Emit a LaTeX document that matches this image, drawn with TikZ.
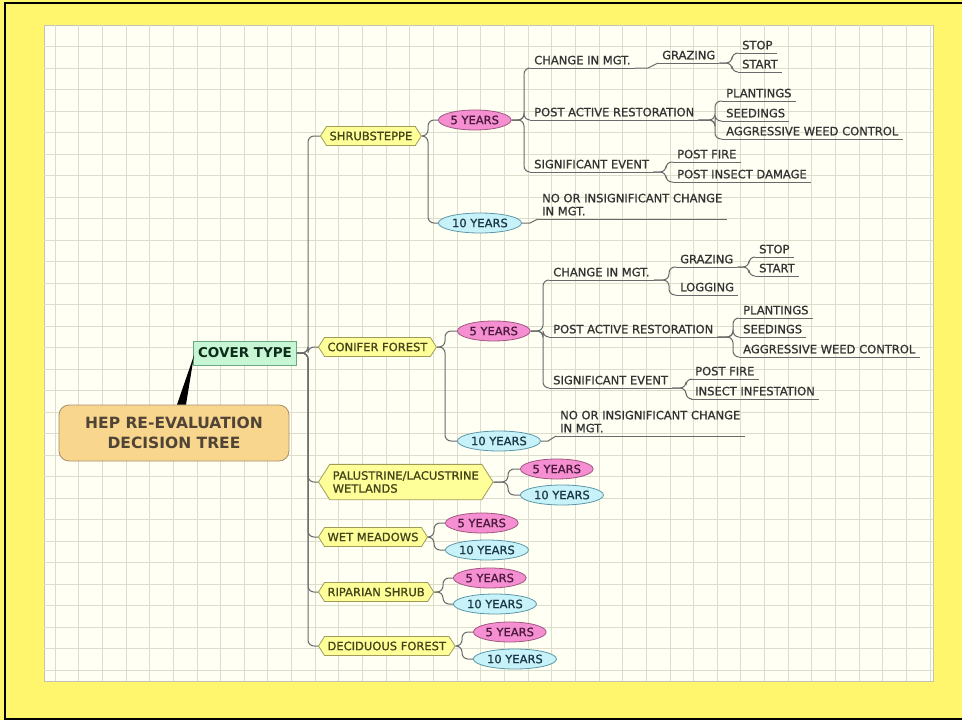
\documentclass[tikz,border=0pt]{standalone}
\usepackage{fontspec}
\setmainfont{DejaVu Sans}
\newfontfamily\leafface{DejaVu Sans}[FakeBold=1]
\usetikzlibrary{shapes.geometric,shapes.symbols,calc}

\definecolor{bgyellow}{HTML}{FFF66E}
\definecolor{paper}{HTML}{FFFFF4}
\definecolor{paperedge}{HTML}{C4C4B6}
\definecolor{gridgray}{HTML}{DDDDCE}
\definecolor{linegray}{HTML}{6A6A6A}
\definecolor{leaftext}{HTML}{333333}
\definecolor{hexfill}{HTML}{FFFF99}
\definecolor{hexline}{HTML}{A09C58}
\definecolor{hextext}{HTML}{44431A}
\definecolor{pinkfill}{HTML}{F58FD2}
\definecolor{pinkline}{HTML}{A0587F}
\definecolor{pinktext}{HTML}{4A1A3C}
\definecolor{cyanfill}{HTML}{C8F2FA}
\definecolor{cyanline}{HTML}{5A98A8}
\definecolor{cyantext}{HTML}{1A3646}
\definecolor{greenfill}{HTML}{C6F6D3}
\definecolor{greenline}{HTML}{6AA882}
\definecolor{greentext}{HTML}{0E2C1A}
\definecolor{titlefill}{HTML}{F9D68E}
\definecolor{titleline}{HTML}{A88F6C}
\definecolor{titletext}{HTML}{4F4436}

\newcommand{\leaffont}{\leafface\fontsize{11.5}{13}\selectfont}

\tikzset{
  gridline/.style={draw=gridgray, line width=0.8pt},
  branch/.style={draw=linegray, line width=1pt, rounded corners=6pt},
  leaf/.style={anchor=south west, inner xsep=4pt, inner ysep=3.5pt, text depth=0pt, font=\leaffont, text=leaftext},
  hexbox/.style={signal, signal to=east and west, signal pointer angle=115, anchor=west,
    draw=hexline, fill=hexfill, line width=0.8pt, inner xsep=3pt, inner ysep=3pt,
    minimum height=19pt, font=\leaffont, text=hextext},
  yearbox/.style={ellipse, anchor=west, line width=0.8pt, inner xsep=1.5pt, inner ysep=0pt,
    minimum height=20pt, font=\leaffont},
  fivebox/.style={yearbox, draw=pinkline, fill=pinkfill, text=pinktext},
  tenbox/.style={yearbox, draw=cyanline, fill=cyanfill, text=cyantext},
  coverbox/.style={draw=greenline, fill=greenfill, line width=0.8pt, minimum width=103pt,
    minimum height=24pt, font=\bfseries\fontsize{13.5}{16}\selectfont, text=greentext},
  titlebox/.style={draw=titleline, fill=titlefill, line width=0.8pt, rounded corners=10pt,
    minimum width=230pt, minimum height=56pt, align=center,
    font=\bfseries\fontsize{15.5}{20}\selectfont, text=titletext}
}

\begin{document}
\begin{tikzpicture}[x=1pt, y=-1pt]
  \useasboundingbox (0,0) rectangle (962,720);
  \fill[bgyellow] (0,0) rectangle (962,720);
  \draw[black, line width=2pt] (5,3) rectangle (975,718.5);
  \filldraw[fill=paper, draw=paperedge, line width=1pt] (44,25) rectangle (933,681);
  \begin{scope}
    \clip (44,25) rectangle (933,681);
    \foreach \i in {0,...,37} \draw[gridline] ({55+23.65*\i},25) -- ++(0,656);
    \foreach \j in {0,...,29} \draw[gridline] (44,{46.7+21.5*\j}) -- ++(889,0);
  \end{scope}

  \coordinate (tr) at (308,0);
  \coordinate (hs1) at (428,0);
  \coordinate (hs2) at (445,0);
  \coordinate (hs3) at (508,0);
  \coordinate (hs4) at (434,0);
  \coordinate (hs5) at (443,0);
  \coordinate (hs6) at (462,0);
  \coordinate (sp1) at (524,0);
  \coordinate (sp2) at (648,0);
  \coordinate (sp3) at (732,0);
  \coordinate (sp4) at (715,0);
  \coordinate (sp5) at (666,0);
  \coordinate (sp6) at (530,0);
  \coordinate (sq1) at (543,0);
  \coordinate (sq2) at (669,0);
  \coordinate (sq3) at (749,0);
  \coordinate (sq4) at (733,0);
  \coordinate (sq5) at (686,0);
  \coordinate (sq6) at (548,0);

  \node[titlebox] (title) at (174,433) {HEP RE-EVALUATION\\DECISION TREE};
  \node[coverbox] (cover) at (245,353) {COVER TYPE};

  \node[hexbox] (shrub) at (320,136) {SHRUBSTEPPE};
  \node[hexbox] (conif) at (318,347) {CONIFER FOREST};
  \node[hexbox, align=left, inner ysep=6.8pt] (palus) at (318,482) {PALUSTRINE/LACUSTRINE\\WETLANDS};
  \node[hexbox] (wetm) at (318,537) {WET MEADOWS};
  \node[hexbox] (ripar) at (318,592) {RIPARIAN SHRUB};
  \node[hexbox] (decid) at (318,646) {DECIDUOUS FOREST};

  \node[fivebox] (s5) at (438,120) {5 YEARS};
  \node[tenbox] (s10) at (438,223) {10 YEARS};
  \node[fivebox] (c5) at (457,331) {5 YEARS};
  \node[tenbox] (c10) at (457,441) {10 YEARS};
  \node[fivebox] (p5) at (520,469) {5 YEARS};
  \node[tenbox] (p10) at (520,495) {10 YEARS};
  \node[fivebox] (w5) at (445,523) {5 YEARS};
  \node[tenbox] (w10) at (445,550) {10 YEARS};
  \node[fivebox] (r5) at (453,578) {5 YEARS};
  \node[tenbox] (r10) at (453,604) {10 YEARS};
  \node[fivebox] (d5) at (473,632) {5 YEARS};
  \node[tenbox] (d10) at (473,659) {10 YEARS};

  \node[leaf] (s5chg) at (530,68) {CHANGE IN MGT.};
  \node[leaf] (s5graz) at (658,63) {GRAZING};
  \node[leaf] (s5stop) at (738,53) {STOP};
  \node[leaf] (s5start) at (738,72) {START};
  \node[leaf] (s5par) at (530,120) {POST ACTIVE RESTORATION};
  \node[leaf] (s5plant) at (722,101) {PLANTINGS};
  \node[leaf] (s5seed) at (722,121) {SEEDINGS};
  \node[leaf] (s5weed) at (722,139) {AGGRESSIVE WEED CONTROL};
  \node[leaf] (s5sig) at (530,172) {SIGNIFICANT EVENT};
  \node[leaf] (s5fire) at (673,162) {POST FIRE};
  \node[leaf] (s5insect) at (673,182) {POST INSECT DAMAGE};
  \node[leaf, align=left] (s10no) at (538,219) {NO OR INSIGNIFICANT CHANGE\\IN MGT.};

  \node[leaf] (c5chg) at (549,280) {CHANGE IN MGT.};
  \node[leaf] (c5graz) at (676,267) {GRAZING};
  \node[leaf] (c5stop) at (755,257) {STOP};
  \node[leaf] (c5start) at (755,276) {START};
  \node[leaf] (c5log) at (676,295) {LOGGING};
  \node[leaf] (c5par) at (549,337) {POST ACTIVE RESTORATION};
  \node[leaf] (c5plant) at (739,318) {PLANTINGS};
  \node[leaf] (c5seed) at (739,337) {SEEDINGS};
  \node[leaf] (c5weed) at (739,357) {AGGRESSIVE WEED CONTROL};
  \node[leaf] (c5sig) at (549,388) {SIGNIFICANT EVENT};
  \node[leaf] (c5fire) at (691,379) {POST FIRE};
  \node[leaf] (c5insect) at (691,399) {INSECT INFESTATION};
  \node[leaf, align=left] (c10no) at (556,436) {NO OR INSIGNIFICANT CHANGE\\IN MGT.};

  \fill[black] ($(title.north)+(3,0)$) -- ($(title.north)+(12,0)$) -- ($(cover.west)+(1,2)$) -- cycle;

  \foreach \c in {shrub,conif,palus,wetm,ripar,decid}
    \draw[branch] (cover.east) -| (tr |- \c.west) -- (\c.west);
  \foreach \h/\s/\a/\b in {shrub/hs1/s5/s10, conif/hs2/c5/c10, palus/hs3/p5/p10,
                           wetm/hs4/w5/w10, ripar/hs5/r5/r10, decid/hs6/d5/d10} {
    \draw[branch] (\h.east) -| (\s |- \a.west) -- (\a.west);
    \draw[branch] (\h.east) -| (\s |- \b.west) -- (\b.west);
  }

  \foreach \c in {s5chg,s5par,s5sig}
    \draw[branch] (s5.east) -| (sp1 |- \c.south west) -- (\c.south west);
  \draw[branch, sharp corners] (s5chg.south east) -- (sp2 |- s5chg.south east) -- (s5graz.south west);
  \foreach \c in {s5stop,s5start}
    \draw[branch] (s5graz.south east) -| (sp3 |- \c.south west) -- (\c.south west);
  \foreach \c in {s5plant,s5seed,s5weed}
    \draw[branch] (s5par.south east) -| (sp4 |- \c.south west) -- (\c.south west);
  \foreach \c in {s5fire,s5insect}
    \draw[branch] (s5sig.south east) -| (sp5 |- \c.south west) -- (\c.south west);
  \draw[branch, sharp corners] (s10.east) -- (sp6 |- s10.east) -- (s10no.south west);

  \foreach \c in {c5chg,c5par,c5sig}
    \draw[branch] (c5.east) -| (sq1 |- \c.south west) -- (\c.south west);
  \foreach \c in {c5graz,c5log}
    \draw[branch] (c5chg.south east) -| (sq2 |- \c.south west) -- (\c.south west);
  \foreach \c in {c5stop,c5start}
    \draw[branch] (c5graz.south east) -| (sq3 |- \c.south west) -- (\c.south west);
  \foreach \c in {c5plant,c5seed,c5weed}
    \draw[branch] (c5par.south east) -| (sq4 |- \c.south west) -- (\c.south west);
  \foreach \c in {c5fire,c5insect}
    \draw[branch] (c5sig.south east) -| (sq5 |- \c.south west) -- (\c.south west);
  \draw[branch, sharp corners] (c10.east) -- (sq6 |- c10.east) -- (c10no.south west);

  \foreach \n in {s5chg,s5graz,s5stop,s5start,s5par,s5plant,s5seed,s5weed,s5sig,s5fire,s5insect,s10no,
                  c5chg,c5graz,c5stop,c5start,c5log,c5par,c5plant,c5seed,c5weed,c5sig,c5fire,c5insect,c10no}
    \draw[branch] (\n.south west) -- (\n.south east);
\end{tikzpicture}
\end{document}
